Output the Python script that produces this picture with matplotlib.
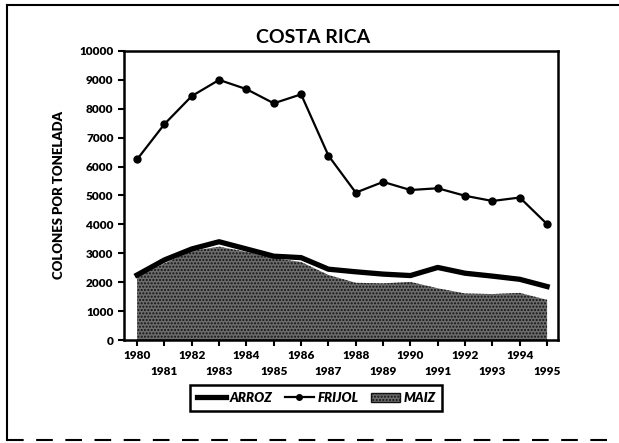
import numpy as np
import matplotlib.pyplot as plt
from matplotlib.lines import Line2D
from matplotlib.patches import Patch

plt.rcParams['font.family'] = ['Lato', 'DejaVu Sans']

# datos (colones por tonelada)
anios = np.arange(1980, 1996)
frijol = [6250, 7470, 8440, 9000, 8680, 8190, 8500, 6380, 5100, 5470, 5190, 5250, 4990, 4810, 4930, 4010]
arroz = [2250, 2770, 3150, 3400, 3150, 2900, 2850, 2450, 2360, 2280, 2230, 2510, 2310, 2210, 2100, 1850]
maiz = [2200, 2650, 3080, 3230, 3050, 2830, 2700, 2250, 1980, 1960, 2010, 1790, 1610, 1590, 1630, 1390]

fig = plt.figure(figsize=(6.19, 4.43), dpi=100)
ax = fig.add_axes([0.2003, 0.2325, 0.7012, 0.6524])

ax.fill_between(anios, 0, maiz, facecolor='#6c6c6c', edgecolor='#111111',
                hatch='.....', linewidth=0, zorder=1)
ax.plot(anios, arroz, color='black', lw=3.8, zorder=2)
ax.plot(anios, frijol, color='black', lw=1.6, marker='o', ms=5, zorder=3)

ax.set_xlim(1979.52, 1995.4)
ax.set_ylim(0, 10000)
ax.set_yticks(np.arange(0, 10001, 1000))
ax.set_xticks(anios)
# anios pares arriba, impares abajo
etiquetas = [str(a) if a % 2 == 0 else '\n' + str(a) for a in anios]
ax.set_xticklabels(etiquetas, fontweight='heavy', fontsize=8.5, linespacing=1.5)
for t in ax.get_yticklabels():
    t.set_fontweight('heavy')
    t.set_fontsize(8.5)
ax.tick_params(axis='both', direction='out', length=4, width=1.5, color='black')
for s in ax.spines.values():
    s.set_linewidth(1.8)

ax.set_ylabel('COLONES POR TONELADA', fontweight='heavy', fontsize=9.5, labelpad=10)
fig.text(0.506, 0.916, 'COSTA RICA', ha='center', va='center', fontweight='bold', fontsize=14)

handles = [Line2D([], [], color='black', lw=3.8),
           Line2D([], [], color='black', lw=1.6, marker='o', ms=4),
           Patch(facecolor='#6c6c6c', edgecolor='#111111', hatch='.....')]
leg = fig.legend(handles, ['ARROZ', 'FRIJOL', 'MAIZ'], loc='center',
                 bbox_to_anchor=(0.511, 0.1016), ncol=3, fancybox=False,
                 framealpha=1, edgecolor='black', handlelength=2.2,
                 columnspacing=0.9, handletextpad=0.3, borderpad=0.5,
                 prop={'weight': 'heavy', 'style': 'italic', 'size': 9.5})
leg.get_frame().set_linewidth(1.8)

# marco exterior
fig.add_artist(Line2D([0.011, 0.011], [0.007, 0.989], color='black', lw=1.5))
fig.add_artist(Line2D([0.011, 1.0], [0.989, 0.989], color='black', lw=1.5))
fig.add_artist(Line2D([0.011, 1.0], [0.007, 0.007], color='black', lw=1.5, ls=(0, (8, 6))))

fig.savefig('out.png', dpi=100)
